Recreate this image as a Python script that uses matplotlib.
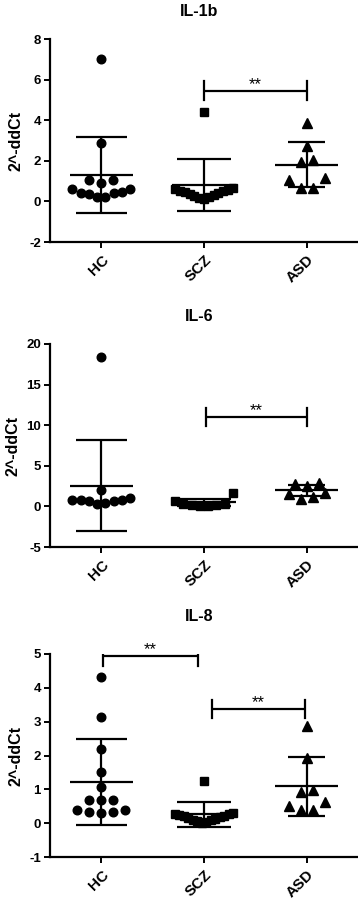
import matplotlib
matplotlib.use('Agg')
import matplotlib.pyplot as plt
import numpy as np

plt.rcParams['font.family'] = ['Liberation Sans', 'DejaVu Sans']
plt.rcParams['font.weight'] = 'bold'

# ---------------- data ----------------
groups = ['HC', 'SCZ', 'ASD']
ylabel = '2^-ddCt'

il1b_title = 'IL-1b'
il1b_hc = [7.0, 2.9, 1.05, 1.05, 0.92, 0.59, 0.43, 0.35, 0.21, 0.23, 0.43, 0.46, 0.63]
il1b_scz = [4.42, 0.64, 0.57, 0.49, 0.41, 0.32, 0.23, 0.10, 0.15, 0.27, 0.36, 0.45, 0.53, 0.61]
il1b_asd = [3.86, 2.74, 2.03, 1.96, 1.04, 1.17, 0.68, 0.68]
il1b_mean = [1.29, 0.79, 1.80]
il1b_sd = [1.86, 1.28, 1.11]
il1b_ticks = [-2, 0, 2, 4, 6, 8]
il1b_sig = [(1, 2, 5.45, '**')]

il6_title = 'IL-6'
il6_hc = [18.43, 1.98, 0.82, 0.74, 0.62, 0.33, 0.45, 0.62, 0.74, 0.99]
il6_scz = [1.6, 0.70, 0.35, 0.20, 0.10, 0.08, 0.15, 0.25]
il6_asd = [2.50, 2.88, 2.72, 1.57, 1.64, 1.15, 0.86]
il6_mean = [2.55, 0.50, 1.98]
il6_sd = [5.60, 0.45, 0.71]
il6_ticks = [-5, 0, 5, 10, 15, 20]
il6_sig = [(1, 2, 11.0, '**')]

il8_title = 'IL-8'
il8_hc = [4.33, 3.13, 2.20, 1.52, 1.06, 0.68, 0.68, 0.68, 0.40, 0.38, 0.32, 0.30, 0.32]
il8_scz = [1.25, 0.30, 0.27, 0.22, 0.18, 0.13, 0.08, 0.03, 0.0, 0.05, 0.10, 0.16, 0.20, 0.25, 0.28]
il8_asd = [2.88, 1.93, 0.99, 0.91, 0.52, 0.64, 0.39, 0.39]
il8_mean = [1.22, 0.26, 1.09]
il8_sd = [1.27, 0.36, 0.88]
il8_ticks = [-1, 0, 1, 2, 3, 4, 5]
il8_sig = [(0, 1, 4.93, '**'), (1, 2, 3.37, '**')]

# ---------------- layout / style ----------------
W, H = 358, 900
fig = plt.figure(figsize=(W / 100, H / 100), dpi=100)

panels = [
    (il1b_title, [il1b_hc, il1b_scz, il1b_asd], il1b_mean, il1b_sd, il1b_ticks, il1b_sig, 39, 242, 16,
     [(0.0, 0.0)]),
    (il6_title, [il6_hc, il6_scz, il6_asd], il6_mean, il6_sd, il6_ticks, il6_sig, 344, 547, 321,
     [(0.02, 0.0)]),
    (il8_title, [il8_hc, il8_scz, il8_asd], il8_mean, il8_sd, il8_ticks, il8_sig, 654, 857, 621,
     [(0.02, -0.06), (0.08, -0.02)]),
]
ax_left, ax_right = 50, 358
markers = ['o', 's', '^']
msizes = [6.2, 5.6, 6.6]
row_h = 12.5          # px height of a scatter row
slot_px = 12.0        # px spacing of points within a row
row_max = 58.0        # px max width of a row
mean_half = 0.31
cap_half = [0.25, 0.26, 0.18]
LW = 1.6


def scatter_offsets(vals, px_unit):
    """GraphPad-like column scatter: rows of similar values spread sideways,
    lowest value in the middle."""
    vals = np.asarray(vals, float)
    order = list(np.argsort(vals, kind='stable'))
    xs = np.zeros(len(vals))
    rows = []
    for i in order:
        if rows and (vals[i] - vals[rows[-1][0]]) * px_unit <= row_h:
            rows[-1].append(i)
        else:
            rows.append([i])
    for row in rows:
        n = len(row)
        s = slot_px if n < 2 else min(slot_px, row_max / (n - 1))
        slots = [(k - (n - 1) / 2.0) * s for k in range(n)]
        # order: centre first, then alternate left/right
        slots.sort(key=lambda v: (round(abs(v), 6), v))
        for i, sl in zip(row, slots):
            xs[i] = sl
    return xs


for title, data, means, sds, ticks, sigs, top_px, bot_px, title_px, sig_inset in panels:
    ax = fig.add_axes([ax_left / W, 1 - bot_px / H, (ax_right - ax_left) / W, (bot_px - top_px) / H])
    ymin, ymax = ticks[0], ticks[-1]
    ax.set_ylim(ymin, ymax)
    ax.set_xlim(-0.5, 2.5)
    px_unit = (bot_px - top_px) / (ymax - ymin)
    px_cat = (ax_right - ax_left) / 3.0

    for gi, vals in enumerate(data):
        offs = scatter_offsets(vals, px_unit) / px_cat
        ax.plot(gi + offs, vals, linestyle='none', marker=markers[gi], ms=msizes[gi],
                color='black', zorder=2, clip_on=False)
        m, s = means[gi], sds[gi]
        ax.plot([gi - mean_half, gi + mean_half], [m, m], color='black', lw=LW, zorder=3,
                solid_capstyle='butt')
        ax.plot([gi, gi], [m - s, m + s], color='black', lw=LW, zorder=3, solid_capstyle='butt')
        for yv in (m - s, m + s):
            ax.plot([gi - cap_half[gi], gi + cap_half[gi]], [yv, yv], color='black', lw=LW,
                    zorder=3, solid_capstyle='butt')

    tick_h = 9.3 / px_unit
    for k, (g1, g2, yv, lab) in enumerate(sigs):
        a, b = sig_inset[k]
        x1, x2 = g1 + a, g2 + b
        ax.plot([x1, x2], [yv, yv], color='black', lw=LW, zorder=3, solid_capstyle='butt')
        ax.plot([x1, x1], [yv - tick_h, yv + tick_h], color='black', lw=LW, zorder=3)
        ax.plot([x2, x2], [yv - tick_h, yv + tick_h], color='black', lw=LW, zorder=3)
        ax.text((x1 + x2) / 2, yv - 1.0 / px_unit, lab, ha='center', va='bottom',
                fontsize=12, fontweight='normal')

    ax.set_yticks(ticks)
    ax.set_yticklabels([str(t) for t in ticks], fontsize=9.5, fontweight='bold')
    ax.set_xticks(range(len(groups)))
    ax.set_xticklabels(groups, fontsize=11, fontweight='bold', rotation=45, ha='right',
                       rotation_mode='anchor')
    ax.tick_params(axis='both', direction='out', length=4.5, width=1.4, colors='black', pad=2)
    ax.tick_params(axis='x', pad=3)
    for sp in ('top', 'right'):
        ax.spines[sp].set_visible(False)
    for sp in ('left', 'bottom'):
        ax.spines[sp].set_linewidth(1.6)
    ax.set_ylabel(ylabel, fontsize=11.5, fontweight='bold', labelpad=4)
    ax.patch.set_alpha(0)
    fig.text(199 / W, 1 - title_px / H, title, ha='center', va='baseline', fontsize=11.5,
             fontweight='bold')

fig.savefig('out.png', dpi=100)
